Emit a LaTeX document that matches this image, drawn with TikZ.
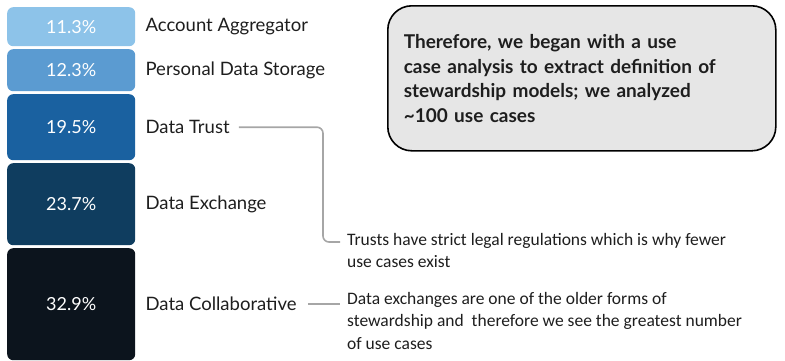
\documentclass[tikz,border=0pt]{standalone}
\usepackage{fontspec}
\setmainfont{Lato}
\newfontfamily\notefont{Carlito}
\usetikzlibrary{positioning}

\definecolor{barA}{HTML}{8DC3E9}
\definecolor{barB}{HTML}{5B9BD1}
\definecolor{barC}{HTML}{1A61A0}
\definecolor{barD}{HTML}{0F3D5F}
\definecolor{barE}{HTML}{0C141D}
\definecolor{linegray}{HTML}{A6A6A6}
\definecolor{boxgray}{HTML}{E6E6E6}
\definecolor{ink}{HTML}{1E1E1E}

\tikzset{
  bar/.style={rounded corners=6pt, minimum width=128pt, anchor=north west,
    text=white, font=\fontsize{18}{20}\selectfont, inner sep=0pt},
  label/.style={right=10pt of #1, anchor=west, text=ink,
    font=\fontsize{18.5}{21}\selectfont, inner sep=0pt},
  conn/.style={linegray, line width=1.6pt, rounded corners=6pt},
  note/.style={anchor=north west, align=left, text=ink, inner sep=0pt,
    font=\notefont\fontsize{17.5}{22.5}\selectfont},
  callout/.style={draw=black, line width=1.6pt, fill=boxgray, rounded corners=24pt,
    minimum width=388pt, minimum height=145pt, anchor=north west,
    text width=356pt, align=left, inner xsep=16pt, text=ink,
    font=\bfseries\fontsize{19}{24.5}\selectfont}
}

\begin{document}
\begin{tikzpicture}[x=1pt, y=-1pt]
	% Frame
	\useasboundingbox (0,0) rectangle (785,360);
	\clip (0,0) rectangle (785,360);
	
	% Bars
	\node[bar, fill=barA, minimum height=39pt] (agg) at (7,7) {11.3\%};
	\node[bar, fill=barB, minimum height=42pt] (pds) at (7,49) {12.3\%};
	\node[bar, fill=barC, minimum height=66pt] (trustbar) at (7,94) {19.5\%};
	\node[bar, fill=barD, minimum height=82pt] (exbar) at (7,163) {23.7\%};
	\node[bar, fill=barE, minimum height=112pt] (colbar) at (7,248) {32.9\%};
	
	% Labels
	\node[label=agg] (aggl) {Account Aggregator};
	\node[label=pds] (pdsl) {Personal Data Storage};
	\node[label=trustbar] (trust) {Data Trust};
	\node[label=exbar] (exch) {Data Exchange};
	\node[label=colbar] (collab) {Data Collaborative};
	
	% Notes
	\node[note] (note1) at (347,233) {Trusts have strict legal regulations which is why fewer\\use cases exist};
	\node[note] (note2) at (347,292) {Data exchanges are one of the older forms of\\stewardship and\ \ therefore we see the greatest number\\of use cases};
	
	% Connectors
	\coordinate (tBend) at (323,242);
	\coordinate (tEnd) at (340,242);
	\draw[conn] ([xshift=9pt]trust.east) -| (tBend) -- (tEnd);
	\coordinate (cEnd) at (340,304);
	\draw[conn] ([xshift=11pt]collab.east) -- (cEnd |- collab.east);
	
	% Callout
	\node[callout] (box) at (387,5) {Therefore, we began with a use\\case analysis to extract definition of\\stewardship models; we analyzed\\\textasciitilde 100 use cases};
\end{tikzpicture}
\end{document}
